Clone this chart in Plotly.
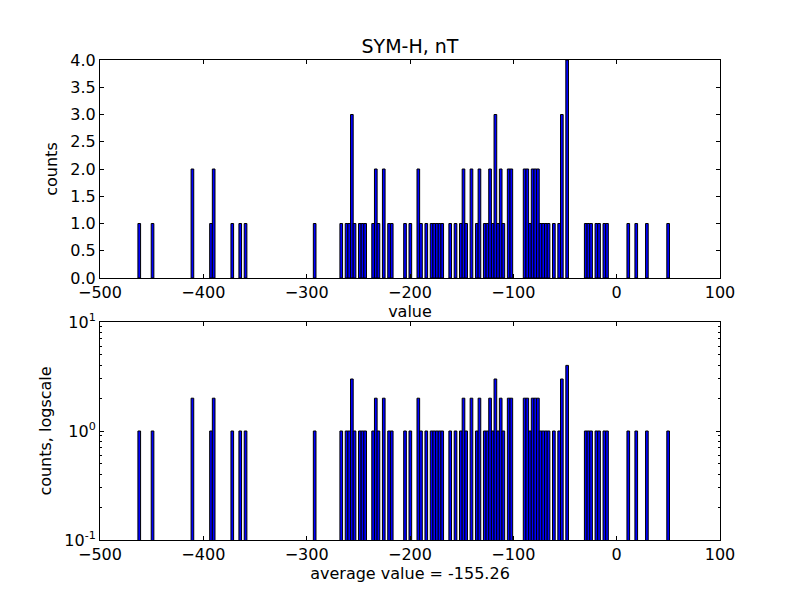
import plotly.graph_objects as go

# Histogram of SYM-H values (nT): 200 equal bins from the data minimum
bin_start = -463.3
bin_width = 2.572
bin_index = [0, 5, 20, 27, 28, 35, 38, 40, 66,
             76, 78, 79, 80, 81, 83, 84, 85, 88, 89, 90, 92, 94, 95,
             100, 102, 105, 106, 108, 110, 111, 112, 113, 114, 117, 119, 121, 122, 123,
             125, 127, 128, 130, 131, 132, 133, 134, 135, 136, 137, 139, 140,
             145, 146, 147, 148, 149, 150, 151, 152, 153, 154, 156, 158, 159, 161,
             168, 169, 170, 172, 173, 175, 176, 184, 187, 191, 199]
counts = [1, 1, 2, 1, 2, 1, 1, 1, 1,
          1, 1, 1, 3, 1, 1, 1, 1, 1, 2, 1, 2, 1, 1,
          1, 1, 2, 1, 1, 1, 1, 1, 1, 1, 1, 1, 1, 2, 1,
          2, 1, 2, 1, 1, 2, 1, 3, 1, 2, 1, 2, 2,
          2, 2, 1, 2, 2, 2, 1, 1, 1, 1, 1, 1, 3, 4,
          1, 1, 1, 1, 1, 1, 1, 1, 1, 1, 1]
average_value = -155.26

x_ticks = [-500, -400, -300, -200, -100, 0, 100]
lin_ticks = [0.0, 0.5, 1.0, 1.5, 2.0, 2.5, 3.0, 3.5, 4.0]
log_ticks = [0.1, 1, 10]
log_tick_text = ["10<sup>-1</sup>", "10<sup>0</sup>", "10<sup>1</sup>"]
log_minor = [0.2, 0.3, 0.4, 0.5, 0.6, 0.7, 0.8, 0.9, 2, 3, 4, 5, 6, 7, 8, 9]

centers = [bin_start + (k + 0.5) * bin_width for k in bin_index]

FONT = "DejaVu Sans"
bar_marker = dict(color="#0000ff", line=dict(color="black", width=1))

fig = go.Figure()
fig.add_trace(go.Bar(x=centers, y=counts, width=bin_width, marker=bar_marker,
                     xaxis="x", yaxis="y", showlegend=False))
fig.add_trace(go.Bar(x=centers, y=counts, width=bin_width, marker=bar_marker,
                     xaxis="x2", yaxis="y2", showlegend=False))

axis_common = dict(showline=True, linecolor="black", linewidth=1, mirror="ticks",
                   ticks="inside", ticklen=4, tickcolor="black", tickwidth=1,
                   showgrid=False, zeroline=False, automargin=False,
                   tickfont=dict(family=FONT, size=16, color="black"))

# page body has an 8px margin; figure is sized so the plot areas land where the reference has them
FIG_W, FIG_H = 792, 592
fig.update_layout(
    width=FIG_W, height=FIG_H,
    margin=dict(l=92, r=80, t=52, b=60),
    paper_bgcolor="white", plot_bgcolor="white",
    font=dict(family=FONT, size=16, color="black"),
    barmode="overlay",
    title=dict(text="SYM-H, nT", x=0.5, xref="paper", xanchor="center",
               y=1 - 38 / FIG_H, yref="container", yanchor="middle",
               font=dict(family=FONT, size=19, color="black")),
    xaxis=dict(axis_common, domain=[0, 1], anchor="y", range=[-500, 100],
               tickmode="array", tickvals=x_ticks,
               title=dict(text="value", standoff=4, font=dict(family=FONT, size=16))),
    yaxis=dict(axis_common, domain=[(540 - 278) / 480, 1], anchor="x", range=[0, 4],
               tickmode="array", tickvals=lin_ticks, tickformat=".1f",
               title=dict(text="counts", standoff=8, font=dict(family=FONT, size=16))),
    xaxis2=dict(axis_common, domain=[0, 1], anchor="y2", range=[-500, 100],
                tickmode="array", tickvals=x_ticks,
                title=dict(text="average value = %.2f" % average_value, standoff=4,
                           font=dict(family=FONT, size=16))),
    yaxis2=dict(axis_common, domain=[0, (540 - 322) / 480], anchor="x2", type="log",
                range=[-1, 1], tickmode="array", tickvals=log_ticks, ticktext=log_tick_text,
                minor=dict(tickmode="array", tickvals=log_minor, ticks="inside",
                           ticklen=2, tickcolor="black", tickwidth=1, showgrid=False),
                title=dict(text="counts, logscale", standoff=8, font=dict(family=FONT, size=16))),
)

fig.write_html("out.html")
